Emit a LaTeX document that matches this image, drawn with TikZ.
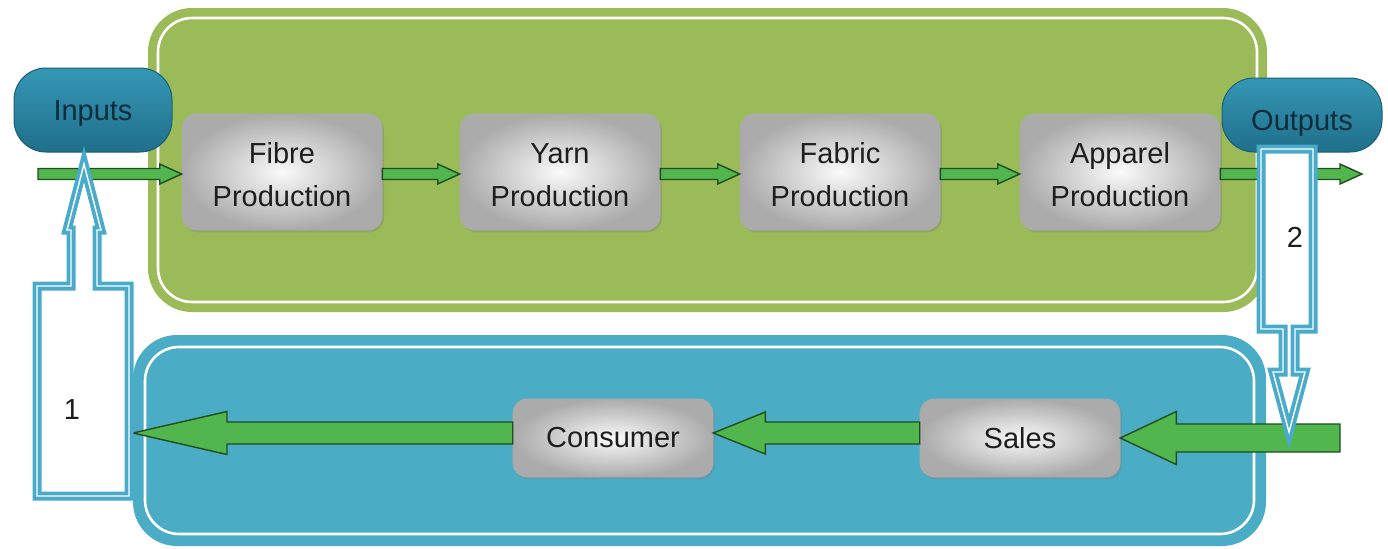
\documentclass[tikz,border=0pt]{standalone}
\usepackage{fontspec}
\setmainfont{Liberation Sans}
\usetikzlibrary{calc,shadows}
\definecolor{panelgreen}{HTML}{9BBB59}
\definecolor{panelblue}{HTML}{4BACC6}
\definecolor{pilltop}{HTML}{3597B5}
\definecolor{pillbot}{HTML}{1F6F8A}
\definecolor{pilledge}{HTML}{1A5E75}
\definecolor{arrowgreen}{HTML}{52B64E}
\definecolor{arrowedge}{HTML}{1F4D1F}
\definecolor{hollowteal}{HTML}{4AAAC9}
\definecolor{textdark}{HTML}{1E1E1E}
\definecolor{pilltext}{HTML}{0E2D3C}
\newcommand\blockarrow[5]{%
  \draw[garrow] ($(#1)+(0,#3)$) -- ($(#2)+(#5,#3)$) -- ($(#2)+(#5,#4)$) -- (#2) -- ($(#2)+(#5,-#4)$) -- ($(#2)+(#5,-#3)$) -- ($(#1)+(0,-#3)$) -- cycle;}
\newcommand\twolines[2]{\raisebox{-2pt}[\height][\depth]{\begin{tabular}{@{}c@{}}#1\\#2\end{tabular}}}
\begin{document}
\begin{tikzpicture}[x=0.5pt,y=-0.5pt,
  panel/.style={rounded corners=22pt},
  innerline/.style={draw=white,line width=1.3pt,rounded corners=17pt},
  gbox/.style={draw=gray!65,line width=0.3pt,rounded corners=7pt,inner sep=0pt,
    inner color=gray!4,outer color=gray!66,
    drop shadow={opacity=0.35,shadow xshift=1pt,shadow yshift=-1.2pt},
    align=center,text=textdark,font=\fontsize{14.5}{21.5}\selectfont},
  twoline/.style={minimum width=100pt,minimum height=58pt},
  oneline/.style={minimum width=100pt,minimum height=39pt},
  pill/.style={draw=pilledge,line width=0.5pt,rounded corners=16pt,inner sep=0pt,
    top color=pilltop,bottom color=pillbot,text=pilltext,font=\fontsize{14.5}{17}\selectfont},
  garrow/.style={fill=arrowgreen,draw=arrowedge,line width=0.7pt,line join=miter},
  hollow/.style={fill=white,draw=hollowteal,line width=1.9pt,double=white,double distance=0.7pt,line join=miter},
  numlabel/.style={text=textdark,font=\fontsize{14.5}{17}\selectfont}]
\useasboundingbox (0,0) rectangle (1388,548);
% panels
\fill[panelgreen,panel] (148,8) rectangle (1267,312);
\draw[innerline] (158,18) rectangle (1257,302);
\fill[panelblue,panel] (133,335) rectangle (1266,546);
\draw[innerline] (145,347) rectangle (1254,534);
% process boxes
\node[gbox,twoline] (fib) at (282,172) {\twolines{Fibre}{Production}};
\node[gbox,twoline] (yarn) at (560,172) {\twolines{Yarn}{Production}};
\node[gbox,twoline] (fab) at (840,172) {\twolines{Fabric}{Production}};
\node[gbox,twoline] (app) at (1120,172) {\twolines{Apparel}{Production}};
\node[gbox,oneline] (cons) at (613,438) {Consumer};
\node[gbox,oneline] (sales) at (1020,438) {Sales};
% pills
\node[pill,minimum width=79pt,minimum height=42pt,text height=13.4pt] (inp) at (93,110) {Inputs};
\node[pill,minimum width=80pt,minimum height=37pt,text height=18pt] (outp) at (1302,115) {Outputs};
% free ends and arrow anchors
\coordinate (in0) at (38,174);
\coordinate (out1) at (1362,174);
\coordinate (sal0) at (1340,438);
\coordinate (back1) at (133,433);
\coordinate (fibw) at ($(fib.west)+(0,2)$);
\coordinate (fibe) at ($(fib.east)+(0,2)$);
\coordinate (yarnw) at ($(yarn.west)+(0,2)$);
\coordinate (yarne) at ($(yarn.east)+(0,2)$);
\coordinate (fabw) at ($(fab.west)+(0,2)$);
\coordinate (fabe) at ($(fab.east)+(0,2)$);
\coordinate (appw) at ($(app.west)+(0,2)$);
\coordinate (appe) at ($(app.east)+(0,2)$);
\coordinate (salw) at ($(sales.west)+(0,-5)$);
\coordinate (conse) at ($(cons.east)+(0,-5)$);
\coordinate (consw) at ($(cons.west)+(0,-5)$);
% small arrows
\blockarrow{in0}{fibw}{5.5}{10}{-22}
\blockarrow{fibe}{yarnw}{5.5}{10}{-22}
\blockarrow{yarne}{fabw}{5.5}{10}{-22}
\blockarrow{fabe}{appw}{5.5}{10}{-22}
\blockarrow{appe}{out1}{5.5}{10}{-22}
% big arrows
\blockarrow{sal0}{sales.east}{14}{26.5}{56}
\blockarrow{salw}{conse}{11}{21}{52}
\blockarrow{consw}{back1}{11}{21.5}{94}
% hollow arrow 1
\draw[hollow] (84,164) -- (101,230) -- (97,230) -- (97,286) -- (129,286) -- (129,496) -- (37,496) -- (37,286) -- (71,286) -- (71,230) -- (67,230) -- cycle;
\node[numlabel] (n1) at (72,410) {1};
% hollow arrow 2
\draw[hollow] (1261,149) -- (1313,149) -- (1313,329) -- (1295,329) -- (1295,372) -- (1305,372) -- (1289,432) -- (1273,372) -- (1283,372) -- (1283,329) -- (1261,329) -- cycle;
\node[numlabel] (n2) at (1295,237) {2};
\end{tikzpicture}
\end{document}
